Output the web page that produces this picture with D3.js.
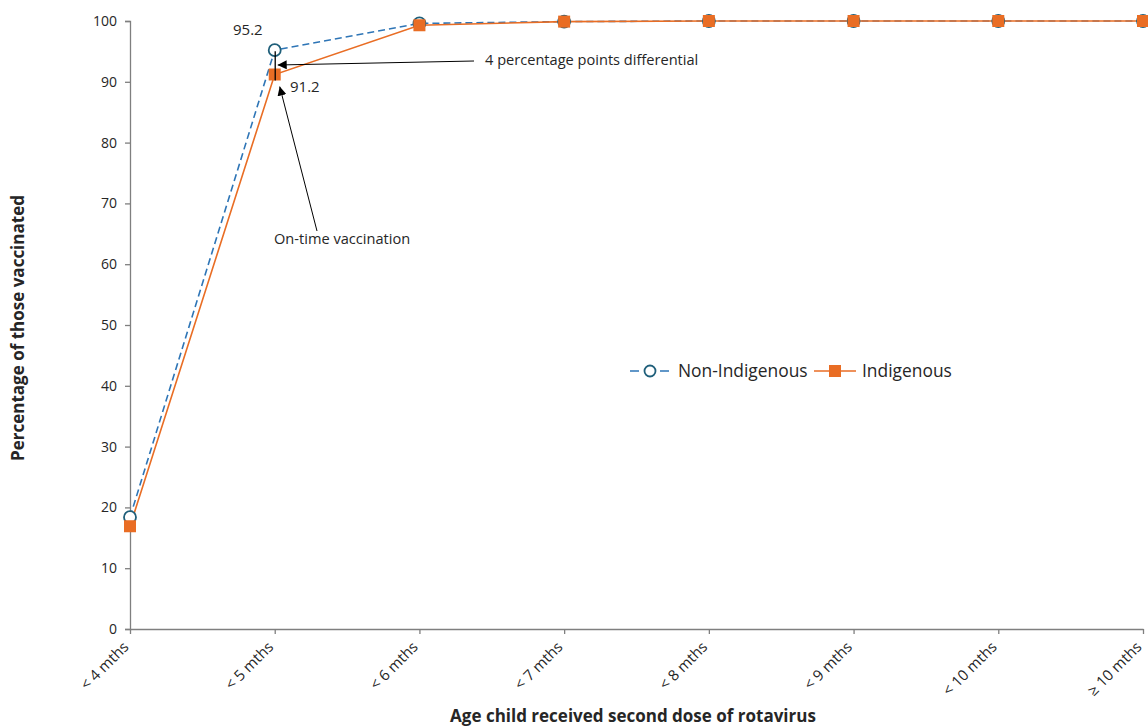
<!DOCTYPE html>
<html><head><meta charset="utf-8">
<script src="https://cdn.jsdelivr.net/npm/d3@7"></script>
<style>body{margin:0;background:#fff}svg{display:block;font-family:"Open Sans",sans-serif}</style>
</head><body><svg id="c" width="1148" height="726"></svg>
<script>
const categories = ["< 4 mths","< 5 mths","< 6 mths","< 7 mths","< 8 mths","< 9 mths","< 10 mths","\u2265 10 mths"];
const nonIndigenous = [18.4, 95.2, 99.6, 99.9, 100, 100, 100, 100];
const indigenous = [16.9, 91.2, 99.3, 99.9, 100, 100, 100, 100];
const yTicks = [0,10,20,30,40,50,60,70,80,90,100];

const svg = d3.select("#c");
const F = "Open Sans";
const L=130, R=1143, T=21, B=629;
const x = d3.scalePoint().domain(categories).range([L,R]);
const y = d3.scaleLinear().domain([0,100]).range([B,T]);
const txt="#262626", axc="#7f7f7f";

// y axis
const ya = svg.append("g").attr("transform",`translate(${L},0)`).call(d3.axisLeft(y).tickValues(yTicks).tickSize(5).tickPadding(8));
ya.select(".domain").attr("stroke",axc).attr("stroke-width",1.3);
ya.selectAll(".tick line").attr("stroke",axc).attr("stroke-width",1.3);
ya.selectAll("text").attr("font-size",14).attr("fill",txt).attr("font-family",F);
// x axis
const xa = svg.append("g").attr("transform",`translate(0,${B})`).call(d3.axisBottom(x).tickSize(5).tickSizeOuter(0));
xa.select(".domain").attr("stroke",axc).attr("stroke-width",1.3);
xa.selectAll(".tick line").attr("stroke",axc).attr("stroke-width",1.3);
xa.selectAll("text").attr("font-size",15).attr("fill",txt).attr("font-family",F)
  .attr("text-anchor","end").attr("dy",0).attr("y",0)
  .attr("transform","translate(-1,19) rotate(-45)");

// titles
svg.append("text").attr("x",633).attr("y",722).attr("text-anchor","middle").attr("font-weight","bold").attr("font-size",17).attr("fill",txt).text("Age child received second dose of rotavirus");
svg.append("text").attr("transform","translate(24,328) rotate(-90)").attr("text-anchor","middle").attr("font-weight","bold").attr("font-size",17).attr("fill",txt).text("Percentage of those vaccinated");

const line = d3.line().x((d,i)=>x(categories[i])).y(d=>y(d));
const blue="#2e75b6", teal="#1f5f7a", orange="#e96d24";
svg.append("path").datum(nonIndigenous).attr("d",line).attr("fill","none").attr("stroke",blue).attr("stroke-width",1.6).attr("stroke-dasharray","7,4");
svg.append("path").datum(indigenous).attr("d",line).attr("fill","none").attr("stroke",orange).attr("stroke-width",1.6);
svg.selectAll(".ni").data(nonIndigenous).enter().append("circle").attr("cx",(d,i)=>x(categories[i])).attr("cy",d=>y(d)).attr("r",6).attr("fill","#fff").attr("stroke",teal).attr("stroke-width",1.8);
svg.selectAll(".ind").data(indigenous).enter().append("rect").attr("x",(d,i)=>x(categories[i])-6).attr("y",d=>y(d)-6).attr("width",12).attr("height",12).attr("fill",orange);

// annotations
const defs = svg.append("defs");
defs.append("marker").attr("id","ah").attr("viewBox","0 0 10 10").attr("refX",10).attr("refY",5).attr("markerWidth",9).attr("markerHeight",9).attr("markerUnits","userSpaceOnUse").attr("orient","auto")
  .append("path").attr("d","M0,0 L10,5 L0,10 z").attr("fill","#000");
const x5 = x(categories[1]);
svg.append("line").attr("x1",x5+0.5).attr("x2",x5+0.5).attr("y1",y(nonIndigenous[1])+1).attr("y2",y(indigenous[1])+6).attr("stroke","#000").attr("stroke-width",1.3);
svg.append("line").attr("x1",474).attr("y1",61).attr("x2",x5+3).attr("y2",65).attr("stroke","#000").attr("stroke-width",1).attr("marker-end","url(#ah)");
svg.append("line").attr("x1",317).attr("y1",231).attr("x2",x5+5).attr("y2",y(indigenous[1])+12).attr("stroke","#000").attr("stroke-width",1).attr("marker-end","url(#ah)");
svg.append("text").attr("x",485).attr("y",65).attr("font-size",14.6).attr("fill",txt).text("4 percentage points differential");
svg.append("text").attr("x",274).attr("y",244).attr("font-size",14.6).attr("fill",txt).text("On-time vaccination");
svg.append("text").attr("x",233).attr("y",35).attr("font-size",15).attr("fill",txt).text(nonIndigenous[1].toFixed(1));
svg.append("text").attr("x",290).attr("y",92).attr("font-size",15).attr("fill",txt).text(indigenous[1].toFixed(1));

// legend
const lg = svg.append("g");
lg.append("line").attr("x1",630).attr("x2",670).attr("y1",371).attr("y2",371).attr("stroke",blue).attr("stroke-width",1.6).attr("stroke-dasharray","9,6");
lg.append("circle").attr("cx",650).attr("cy",371).attr("r",5.5).attr("fill","#fff").attr("stroke",teal).attr("stroke-width",1.8);
lg.append("text").attr("x",678).attr("y",377).attr("font-size",17.4).attr("fill",txt).text("Non-Indigenous");
lg.append("line").attr("x1",814).attr("x2",856).attr("y1",371).attr("y2",371).attr("stroke",orange).attr("stroke-width",1.6);
lg.append("rect").attr("x",829).attr("y",365).attr("width",12).attr("height",12).attr("fill",orange);
lg.append("text").attr("x",862).attr("y",377).attr("font-size",17.4).attr("fill",txt).text("Indigenous");
</script></body></html>
